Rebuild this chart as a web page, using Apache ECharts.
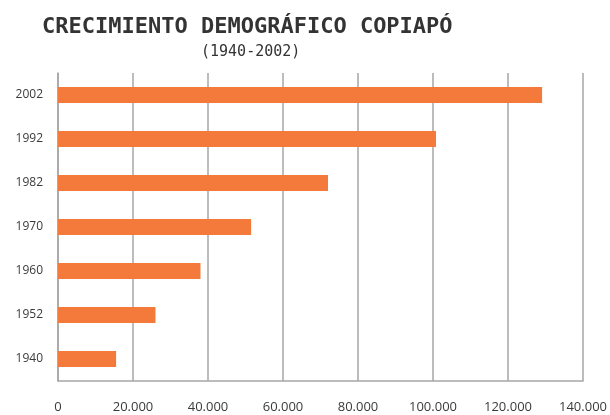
<!DOCTYPE html>
<html>
<head>
<meta charset="utf-8">
<script src="https://cdn.jsdelivr.net/npm/echarts@6/dist/echarts.min.js"></script>
<style>
  html, body { margin: 0; padding: 0; background: #ffffff; }
  #chart { width: 610px; height: 415px; }
</style>
</head>
<body>
<div id="chart"></div>
<script>
// Census years (bottom to top) and population of Copiapó
const years = ['1940', '1952', '1960', '1970', '1982', '1992', '2002'];
const population = [15500, 26000, 38000, 51500, 72000, 100800, 129091];
const xTicks = [0, 20000, 40000, 60000, 80000, 100000, 120000, 140000];

const titleText = 'CRECIMIENTO DEMOGRÁFICO COPIAPÓ';
const subtitleText = '(1940-2002)';

// Thousands with a dot separator, e.g. 20.000
function fmt(v) {
  return String(v).replace(/\B(?=(\d{3})+(?!\d))/g, '.');
}

const chart = echarts.init(document.getElementById('chart'), null, { renderer: 'canvas' });

chart.setOption({
  animation: false,
  backgroundColor: '#ffffff',
  title: [
    {
      text: titleText,
      left: 37,
      top: 11,
      textStyle: {
        fontFamily: 'DejaVu Sans Mono',
        fontSize: 22,
        fontWeight: 'bold',
        color: '#333333'
      }
    },
    {
      text: subtitleText,
      left: 196,
      top: 40,
      textStyle: {
        fontFamily: 'DejaVu Sans Mono',
        fontSize: 15,
        fontWeight: 'normal',
        color: '#333333'
      }
    }
  ],
  grid: { left: 58, right: 26, top: 73, bottom: 34, containLabel: false },
  xAxis: {
    type: 'value',
    min: xTicks[0],
    max: xTicks[xTicks.length - 1],
    interval: xTicks[1] - xTicks[0],
    axisLine: { show: true, lineStyle: { color: '#a6a6a6', width: 1.5 } },
    axisTick: { show: false },
    splitLine: { show: true, lineStyle: { color: '#a6a6a6', width: 1.5 } },
    axisLabel: {
      margin: 20,
      fontFamily: 'Open Sans',
      fontSize: 13,
      color: '#3a3a3a',
      formatter: fmt
    }
  },
  yAxis: {
    type: 'category',
    data: years,
    axisLine: { show: true, lineStyle: { color: '#a6a6a6', width: 1.5 } },
    axisTick: { show: false },
    axisLabel: {
      margin: 15,
      fontFamily: 'Open Sans',
      fontSize: 12,
      color: '#3a3a3a'
    }
  },
  series: [
    {
      type: 'bar',
      data: population,
      barWidth: 16,
      itemStyle: { color: '#f47a3b' }
    }
  ]
});
</script>
</body>
</html>
